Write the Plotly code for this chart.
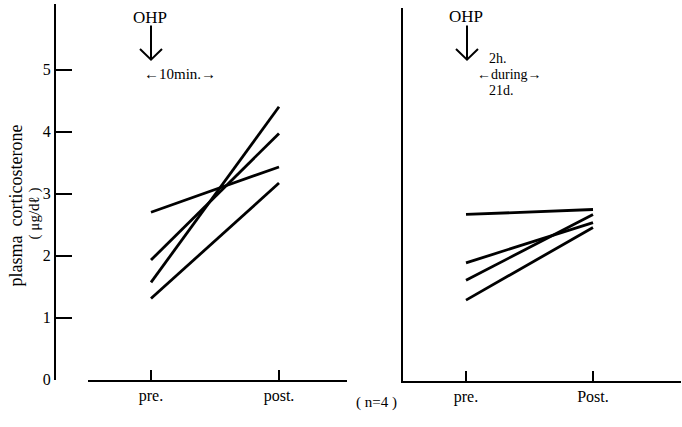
import plotly.graph_objects as go

W, H = 682, 427

# ---- data ----
stage_pos = [0, 1]
left_labels = ["pre.", "post."]
right_labels = ["pre.", "Post."]
y_ticks = [0, 1, 2, 3, 4, 5]

# OHP 10 min (left panel), plasma corticosterone (ug/dl), n=4
left_rat1 = [1.57, 4.40]
left_rat2 = [1.93, 3.97]
left_rat3 = [2.70, 3.43]
left_rat4 = [1.31, 3.17]

# OHP 2h during 21d (right panel)
right_rat1 = [2.68, 2.76]
right_rat2 = [1.90, 2.55]
right_rat3 = [1.62, 2.68]
right_rat4 = [1.30, 2.47]

FONT = "Liberation Serif, Times New Roman, serif"


def px(x):
    return min(max(x / W, 0), 1)


def py(y):
    return min(max(1 - y / H, 0), 1)


fig = go.Figure()
line_style = dict(color="black", width=2.8)
for ys in [left_rat1, left_rat2, left_rat3, left_rat4]:
    fig.add_trace(go.Scatter(x=stage_pos, y=ys, mode="lines", line=line_style,
                             showlegend=False, hoverinfo="skip", xaxis="x", yaxis="y"))
for ys in [right_rat1, right_rat2, right_rat3, right_rat4]:
    fig.add_trace(go.Scatter(x=stage_pos, y=ys, mode="lines", line=line_style,
                             showlegend=False, hoverinfo="skip", xaxis="x2", yaxis="y2"))

unit = 63.4  # pixels per unit on the y scale

axis_common = dict(showgrid=False, zeroline=False, showline=True, linecolor="black",
                   linewidth=2, tickcolor="black", tickfont=dict(family=FONT, size=16, color="black"))

fig.update_layout(
    width=W, height=H, autosize=False,
    margin=dict(l=0, r=0, t=0, b=0),
    paper_bgcolor="white", plot_bgcolor="white",
    font=dict(family=FONT, color="black"),
    xaxis=dict(domain=[px(88), px(347)], range=[(88 - 151) / 128, (347 - 151) / 128],
               tickvals=stage_pos, ticktext=left_labels, ticks="inside", ticklen=10,
               tickwidth=2, anchor="y", **axis_common),
    yaxis=dict(domain=[py(388), py(4)], range=[0, (388 - 4) / unit],
               tickvals=y_ticks, ticks="inside", ticklen=16, tickwidth=2,
               anchor="free", position=px(55), **axis_common),
    xaxis2=dict(domain=[px(403), px(681)], range=[(403 - 466) / 127, (681 - 466) / 127],
                tickvals=stage_pos, ticktext=right_labels, ticks="inside", ticklen=10,
                tickwidth=2, anchor="y2", **axis_common),
    yaxis2=dict(domain=[py(389), py(8)], range=[0, (389 - 8) / unit],
                ticks="", showticklabels=False, anchor="x2", **axis_common),
)

ann = []


def add_text(text, x, y, size=14, xanchor="center", angle=0, align="center"):
    ann.append(dict(text=text, x=px(x), y=py(y), xref="paper", yref="paper",
                    xanchor=xanchor, yanchor="middle", showarrow=False, textangle=angle,
                    align=align, font=dict(family=FONT, size=size, color="black")))


add_text("plasma\u00a0\u00a0corticosterone", 16, 210, size=18, angle=-90)
add_text("(\u00a0μg/dℓ\u00a0)", 34, 218, size=15, angle=-90)
add_text("OHP", 150, 18, size=17)
add_text("←10min.→", 180, 76, size=15)
add_text("OHP", 466, 17, size=17)
add_text("2h.", 487, 60, size=14, xanchor="left")
add_text("←during→", 509, 76, size=14)
add_text("21d.", 487, 92, size=14, xanchor="left")
add_text("(\u00a0n=4\u00a0)", 377, 411, size=15)
fig.update_layout(annotations=ann)

shapes = []
for cx in [151, 467]:
    shapes.append(dict(type="line", xref="paper", yref="paper",
                       x0=px(cx), y0=py(26), x1=px(cx), y1=py(60),
                       line=dict(color="black", width=2)))
    shapes.append(dict(type="path", xref="paper", yref="paper",
                       path=f"M {px(cx - 11)} {py(50)} L {px(cx)} {py(61)} L {px(cx + 11)} {py(50)}",
                       line=dict(color="black", width=2)))
fig.update_layout(shapes=shapes)

fig.write_html("out.html", config={"displayModeBar": False},
               post_script="document.body.style.margin='0';document.body.style.padding='0';")
